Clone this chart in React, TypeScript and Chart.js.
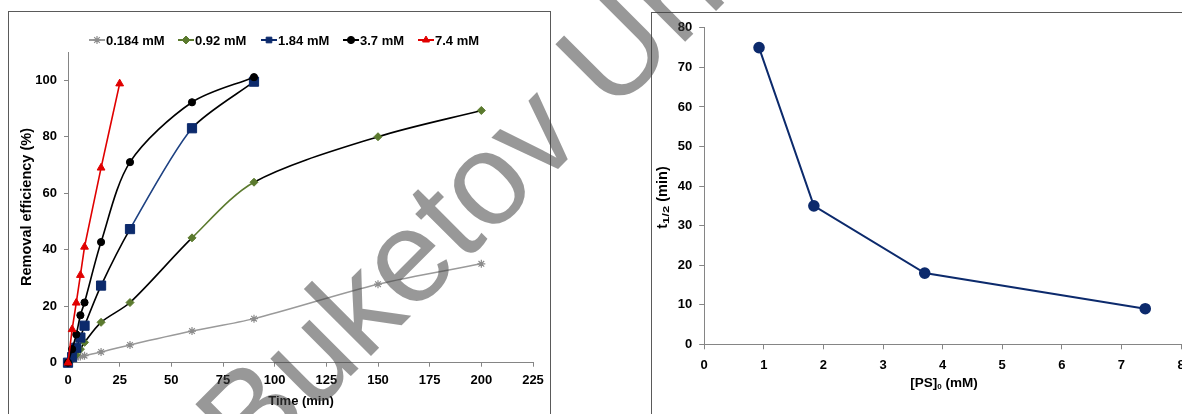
import React, { useEffect, useRef } from 'react';
import { Chart, registerables } from 'chart.js';
import { drawPoint } from 'chart.js/helpers';

Chart.register(...registerables);

const FAMILY = '"Liberation Sans", Arial, sans-serif';

// ---------- Left chart data (removal efficiency vs time) ----------
const SERIES_LABELS = ['0.184 mM', '0.92 mM', '1.84 mM', '3.7 mM', '7.4 mM'];
const TIME_0184 = [0, 2, 4, 6, 8, 16, 30, 60, 90, 150, 200];
const REM_0184 = [0, 1, 1.8, 2.2, 2.5, 3.8, 6.3, 11.2, 15.6, 27.8, 35];
const TIME_092 = [0, 2, 4, 6, 8, 16, 30, 60, 90, 150, 200];
const REM_092 = [0, 1.2, 2.8, 4.8, 7.2, 14.3, 21.3, 44.2, 63.9, 80, 89.3];
const TIME_184 = [0, 2, 4, 6, 8, 16, 30, 60, 90];
const REM_184 = [0, 2, 5.3, 8.9, 13.1, 27.3, 47.3, 83, 99.5];
const TIME_37 = [0, 2, 4, 6, 8, 16, 30, 60, 90];
const REM_37 = [0, 4.8, 10, 16.8, 21.3, 42.7, 71, 92.2, 101.1];
const TIME_74 = [0, 2, 4, 6, 8, 16, 25];
const REM_74 = [0, 11.8, 21.2, 31, 41, 69, 98.8];

// ---------- Right chart data (half-life vs PS dose) ----------
const PS0_MM = [0.92, 1.84, 3.7, 7.4];
const T_HALF = [75, 35, 18, 9];

const pts = (xs: number[], ys: number[]) => xs.map((x, i) => ({ x, y: ys[i] }));

const GRAY = '#9a9a9a';
const GREEN = '#5b7a2e';
const NAVY = '#0c2a6c';
const NAVY_LINE = '#1d4182';
const RED = '#e00000';
const AXIS = '#858585';

const LEGEND_X = [80, 169, 252, 334, 409];

const leftDecor = {
  id: 'leftDecor',
  afterDraw(chart: any) {
    const ctx = chart.ctx;
    ctx.save();
    const y = 28;
    chart.data.datasets.forEach((ds: any, i: number) => {
      const x0 = LEGEND_X[i];
      ctx.strokeStyle = ds.legendLine;
      ctx.lineWidth = 2;
      ctx.beginPath();
      ctx.moveTo(x0, y);
      ctx.lineTo(x0 + 16, y);
      ctx.stroke();
      ctx.fillStyle = ds.pointBackgroundColor;
      ctx.strokeStyle = ds.pointBorderColor;
      ctx.lineWidth = ds.pointBorderWidth;
      drawPoint(ctx, { pointStyle: ds.pointStyle, radius: Math.min(ds.pointRadius, 4), rotation: 0, borderWidth: ds.pointBorderWidth }, x0 + 8, y);
      ctx.fillStyle = '#000';
      ctx.font = `bold 13px ${FAMILY}`;
      ctx.textBaseline = 'middle';
      ctx.textAlign = 'left';
      ctx.fillText(SERIES_LABELS[i], x0 + 17, y + 1);
    });
    // axis titles
    ctx.fillStyle = '#000';
    ctx.textAlign = 'center';
    ctx.textBaseline = 'middle';
    ctx.font = `bold 13px ${FAMILY}`;
    ctx.fillText('Time (min)', 292, 389);
    ctx.save();
    ctx.translate(18, 195);
    ctx.rotate(-Math.PI / 2);
    ctx.font = `bold 14.5px ${FAMILY}`;
    ctx.fillText('Removal efficiency (%)', 0, 0);
    ctx.restore();
    ctx.restore();
  },
};

type Part = { t: string; size: number; dy: number; sx?: number };

function drawParts(ctx: any, parts: Part[], cx: number, cy: number, rot: number) {
  ctx.save();
  ctx.translate(cx, cy);
  ctx.rotate(rot);
  ctx.textAlign = 'left';
  ctx.textBaseline = 'middle';
  ctx.fillStyle = '#000';
  let total = 0;
  parts.forEach((p) => {
    ctx.font = `bold ${p.size}px ${FAMILY}`;
    total += ctx.measureText(p.t).width * (p.sx || 1);
  });
  let x = -total / 2;
  parts.forEach((p) => {
    ctx.font = `bold ${p.size}px ${FAMILY}`;
    const sx = p.sx || 1;
    ctx.save();
    ctx.translate(x, p.dy);
    ctx.scale(sx, 1);
    ctx.fillText(p.t, 0, 0);
    ctx.restore();
    x += ctx.measureText(p.t).width * sx;
  });
  ctx.restore();
}

const rightDecor = {
  id: 'rightDecor',
  afterDraw(chart: any) {
    const ctx = chart.ctx;
    drawParts(ctx, [
      { t: '[PS]', size: 13.5, dy: 0 },
      { t: '0', size: 8, dy: 4 },
      { t: ' (mM)', size: 13.5, dy: 0 },
    ], 292, 370, 0);
    drawParts(ctx, [
      { t: 't', size: 14.5, dy: 0 },
      { t: '1/2', size: 9, dy: 4, sx: 1.45 },
      { t: ' (min)', size: 14.5, dy: 0 },
    ], 11, 184.5, -Math.PI / 2);
  },
};

const tickFont = { family: FAMILY, size: 13, weight: 'bold' as const };

export default function App() {
  const leftRef = useRef<HTMLCanvasElement>(null);
  const rightRef = useRef<HTMLCanvasElement>(null);

  useEffect(() => {
    const left = new Chart(leftRef.current!, {
      type: 'line',
      data: {
        datasets: [
          {
            label: SERIES_LABELS[0],
            data: pts(TIME_0184, REM_0184),
            order: 5,
            clip: false,
            borderColor: GRAY,
            borderWidth: 1.5,
            tension: 0.3,
            pointStyle: 'star',
            pointRadius: 4,
            pointBorderColor: '#8c8c8c',
            pointBackgroundColor: '#8c8c8c',
            pointBorderWidth: 1.2,
            legendLine: GRAY,
          } as any,
          {
            label: SERIES_LABELS[1],
            data: pts(TIME_092, REM_092),
            order: 4,
            clip: false,
            borderColor: '#000',
            borderWidth: 1.6,
            tension: 0.3,
            segment: { borderColor: (c: any) => (c.p0DataIndex === 7 ? GREEN : '#000') },
            pointStyle: 'rectRot',
            pointRadius: 4,
            pointBorderColor: GREEN,
            pointBackgroundColor: GREEN,
            pointBorderWidth: 1,
            legendLine: GREEN,
          } as any,
          {
            label: SERIES_LABELS[2],
            data: pts(TIME_184, REM_184),
            order: 3,
            clip: false,
            borderColor: '#000',
            borderWidth: 1.6,
            tension: 0.25,
            segment: { borderColor: (c: any) => (c.p0DataIndex === 6 ? NAVY_LINE : '#000') },
            pointStyle: 'rect',
            pointRadius: 6.5,
            pointBorderColor: NAVY,
            pointBackgroundColor: NAVY,
            pointBorderWidth: 1,
            legendLine: NAVY,
          } as any,
          {
            label: SERIES_LABELS[3],
            data: pts(TIME_37, REM_37),
            order: 2,
            clip: false,
            borderColor: '#000',
            borderWidth: 1.6,
            tension: 0.3,
            pointStyle: 'circle',
            pointRadius: 3.6,
            pointBorderColor: '#000',
            pointBackgroundColor: '#000',
            pointBorderWidth: 1,
            legendLine: '#000',
          } as any,
          {
            label: SERIES_LABELS[4],
            data: pts(TIME_74, REM_74),
            order: 1,
            clip: false,
            borderColor: RED,
            borderWidth: 1.6,
            tension: 0.05,
            pointStyle: 'triangle',
            pointRadius: 4.5,
            pointBorderColor: RED,
            pointBackgroundColor: RED,
            pointBorderWidth: 1,
            legendLine: RED,
          } as any,
        ],
      },
      options: {
        responsive: false,
        animation: false,
        devicePixelRatio: 1,
        layout: { padding: { left: 0, top: 40, right: 18, bottom: 0 } },
        plugins: { legend: { display: false }, tooltip: { enabled: false } },
        scales: {
          x: {
            type: 'linear',
            min: 0,
            max: 225,
            ticks: { stepSize: 25, font: tickFont, color: '#000', padding: 6, maxRotation: 0 },
            grid: { drawOnChartArea: false, drawTicks: true, tickLength: 4, color: AXIS },
            border: { color: AXIS, width: 1 },
            afterFit: (s: any) => { s.height = 51.3; },
          },
          y: {
            type: 'linear',
            min: 0,
            max: 110,
            ticks: { stepSize: 20, font: tickFont, color: '#000', padding: 7 },
            grid: { drawOnChartArea: false, drawTicks: true, tickLength: 4, color: AXIS },
            border: { color: AXIS, width: 1 },
            afterBuildTicks: (s: any) => { s.ticks = s.ticks.filter((t: any) => t.value <= 100); },
            afterFit: (s: any) => { s.width = 59; },
          },
        },
      } as any,
      plugins: [leftDecor],
    });

    const right = new Chart(rightRef.current!, {
      type: 'line',
      data: {
        datasets: [
          {
            label: 't1/2',
            data: pts(PS0_MM, T_HALF),
            clip: false,
            borderColor: NAVY,
            borderWidth: 2,
            tension: 0,
            pointStyle: 'circle',
            pointRadius: 4.8,
            pointBackgroundColor: NAVY,
            pointBorderColor: NAVY,
          } as any,
        ],
      },
      options: {
        responsive: false,
        animation: false,
        devicePixelRatio: 1,
        layout: { padding: { left: 0, top: 12, right: 31, bottom: 0 } },
        plugins: { legend: { display: false }, tooltip: { enabled: false } },
        scales: {
          x: {
            type: 'linear',
            min: 0,
            max: 8,
            ticks: { stepSize: 1, font: tickFont, color: '#000', padding: 8, maxRotation: 0 },
            grid: { drawOnChartArea: false, drawTicks: true, tickLength: 5, color: AXIS },
            border: { color: AXIS, width: 1 },
            afterFit: (s: any) => { s.height = 69.7; },
          },
          y: {
            type: 'linear',
            min: 0,
            max: 80,
            ticks: { stepSize: 10, font: tickFont, color: '#000', padding: 7 },
            grid: { drawOnChartArea: false, drawTicks: true, tickLength: 5, color: AXIS },
            border: { color: AXIS, width: 1 },
            afterFit: (s: any) => { s.width = 52.2; },
          },
        },
      } as any,
      plugins: [rightDecor],
    });

    return () => {
      left.destroy();
      right.destroy();
    };
  }, []);

  return (
    <div style={{ position: 'fixed', left: 0, top: 0, width: 1182, height: 414, overflow: 'hidden', background: '#fff' }}>
      <div style={{ position: 'absolute', left: 8, top: 11, width: 543, height: 420, border: '1px solid #5a5a5a', boxSizing: 'border-box' }} />
      <canvas ref={leftRef} width={542} height={402} style={{ position: 'absolute', left: 9, top: 12 }} />
      <div style={{ position: 'absolute', left: 651, top: 12, width: 620, height: 420, border: '1px solid #5a5a5a', boxSizing: 'border-box' }} />
      <canvas ref={rightRef} width={560} height={401} style={{ position: 'absolute', left: 652, top: 13 }} />
      <svg width={1182} height={414} style={{ position: 'absolute', left: 0, top: 0, pointerEvents: 'none' }}>
        <text
          x={251.5}
          y={475.5}
          transform="rotate(-45 251.5 475.5)"
          fontFamily={FAMILY}
          fontSize={131}
          fill="rgba(64,64,64,0.54)"
        >
          Buketov University
        </text>
      </svg>
    </div>
  );
}
